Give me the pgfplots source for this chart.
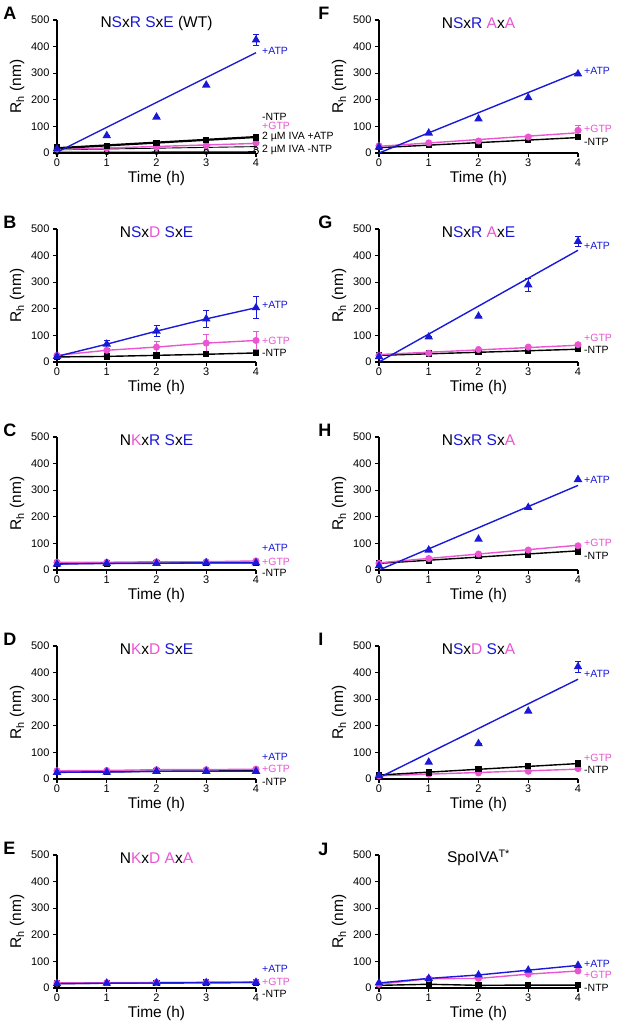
\documentclass[border=0pt]{standalone}
\usepackage{pgfplots}
\pgfplotsset{compat=1.18}
\usepackage{fontspec}
\setmainfont{Liberation Sans}
\definecolor{myblue}{RGB}{25,25,215}
\definecolor{mypink}{RGB}{235,85,210}
\newcommand{\cb}[1]{\textcolor{myblue}{#1}}
\newcommand{\cp}[1]{\textcolor{mypink}{#1}}
\pgfplotsset{
  panel/.style={
    width=199pt, height=133pt, scale only axis, anchor=south west,
    xmin=0, xmax=4, ymin=0, ymax=500,
    xtick={0,1,2,3,4}, ytick={0,100,200,300,400,500},
    axis x line*=bottom, axis y line*=left,
    axis line style={line width=1.5pt},
    tick align=outside, major tick length=4pt,
    tick style={black, line width=1.2pt},
    tick label style={font=\fontsize{11}{13}\selectfont},
    xticklabel style={inner sep=1.5pt},
    /pgf/number format/assume math mode=true,
    xlabel={Time (h)}, ylabel={R\textsubscript{h} (nm)},
    label style={font=\fontsize{15.5}{18}\selectfont},
    xlabel style={at={(axis description cs:0.5,-0.19)}, anchor=center},
    ylabel style={at={(axis description cs:-0.2,0.5)}, anchor=center},
    clip=false,
    error bars/error bar style={line width=1pt},
    error bars/error mark options={rotate=90, mark size=3pt, line width=1pt},
  },
  atp/.style={myblue, line width=1.4pt, mark=triangle*, mark size=3.6pt, mark options={solid}},
  gtp/.style={mypink, line width=1.4pt, mark=*, mark size=2.8pt},
  ntp/.style={black, line width=1.4pt, mark=square*, mark size=2.5pt},
}
\tikzset{
  lab/.style={anchor=west, inner sep=0pt, xshift=6pt, font=\fontsize{10.5}{12}\selectfont},
  ttl/.style={anchor=center, font=\fontsize{15.5}{18}\selectfont},
  plet/.style={anchor=west, inner sep=0pt, font=\fontsize{18}{20}\selectfont\bfseries},
  fit/.style={line width=1.4pt},
}
\begin{document}
\begin{tikzpicture}
\useasboundingbox (0,0) rectangle (617pt,1025pt);

% ---------- A ----------
\begin{axis}[panel, at={(57pt,872pt)}]
\addplot[black, line width=0.9pt, mark=o, mark size=2.4pt, mark options={fill=white}] coordinates {(0,3)(1,3)(2,4)(3,4)(4,5)};
\addplot[black, line width=0.9pt, mark=x, mark size=3pt] coordinates {(0,12)(1,15)(2,18)(3,21)(4,24)};
\addplot[gtp, only marks] coordinates {(0,15)(1,18)(2,22)(3,28)(4,38)};
\addplot[mypink, fit] coordinates {(0,13)(4,36)};
\addplot[ntp, only marks] coordinates {(0,20)(1,27)(2,38)(3,48)(4,58)};
\addplot[black, line width=2.2pt] coordinates {(0,18)(4,60)};
\addplot[atp, only marks, error bars/.cd, y dir=both, y explicit] coordinates {(0,15)+-(0,0) (1,65)+-(0,0) (2,135)+-(0,0) (3,255)+-(0,0) (4,425)+-(0,20)};
\addplot[myblue, fit] coordinates {(0,3)(4,377)};
\node[ttl] at (axis cs:2,488) {N\cb{S}x\cb{R} \cb{S}x\cb{E} (WT)};
\node[lab, myblue] at (axis cs:4,383) {+ATP};
\node[lab] at (axis cs:4,135) {-NTP};
\node[lab, mypink] at (axis cs:4,101) {+GTP};
\node[lab] at (axis cs:4,60) {2 µM IVA +ATP};
\node[lab] at (axis cs:4,11) {2 µM IVA -NTP};
\node[plet] at (axis description cs:-0.271,1.053) {A};
\end{axis}

% ---------- B ----------
\begin{axis}[panel, at={(57pt,663pt)}]
\addplot[ntp] coordinates {(0,19)(1,21)(2,25)(3,29)(4,34)};
\addplot[gtp, error bars/.cd, y dir=both, y explicit] coordinates {(0,25)+-(0,0) (1,44)+-(0,0) (2,56)+-(0,22) (3,71)+-(0,32) (4,81)+-(0,33)};
\addplot[atp, error bars/.cd, y dir=both, y explicit] coordinates {(0,21)+-(0,0) (1,67)+-(0,15) (2,116)+-(0,22) (3,162)+-(0,31) (4,204)+-(0,42)};
\node[ttl] at (axis cs:2,488) {N\cb{S}x\cp{D} \cb{S}x\cb{E}};
\node[lab, myblue] at (axis cs:4,216) {+ATP};
\node[lab, mypink] at (axis cs:4,78) {+GTP};
\node[lab] at (axis cs:4,33) {-NTP};
\node[plet] at (axis description cs:-0.271,1.047) {B};
\end{axis}

% ---------- C ----------
\begin{axis}[panel, at={(57pt,455pt)}]
\addplot[ntp] coordinates {(0,24)(1,25)(2,26)(3,27)(4,28)};
\addplot[gtp] coordinates {(0,29)(1,29)(2,31)(3,31)(4,34)};
\addplot[atp] coordinates {(0,22)(1,25)(2,25)(3,27)(4,27)};
\node[ttl] at (axis cs:2,488) {N\cp{K}x\cb{R} \cb{S}x\cb{E}};
\node[lab, myblue] at (axis cs:4,83) {+ATP};
\node[lab, mypink] at (axis cs:4,30) {+GTP};
\node[lab] at (axis cs:4,-12) {-NTP};
\node[plet] at (axis description cs:-0.271,1.047) {C};
\end{axis}

% ---------- D ----------
\begin{axis}[panel, at={(57pt,246pt)}]
\addplot[ntp] coordinates {(0,26)(1,27)(2,29)(3,30)(4,31)};
\addplot[gtp] coordinates {(0,31)(1,32)(2,35)(3,35)(4,37)};
\addplot[atp] coordinates {(0,25)(1,26)(2,29)(3,29)(4,29)};
\node[ttl] at (axis cs:2,488) {N\cp{K}x\cp{D} \cb{S}x\cb{E}};
\node[lab, myblue] at (axis cs:4,83) {+ATP};
\node[lab, mypink] at (axis cs:4,38) {+GTP};
\node[lab] at (axis cs:4,-11) {-NTP};
\node[plet] at (axis description cs:-0.271,1.047) {D};
\end{axis}

% ---------- E ----------
\begin{axis}[panel, at={(57pt,37pt)}]
\addplot[ntp] coordinates {(0,17)(1,18)(2,19)(3,20)(4,21)};
\addplot[gtp] coordinates {(0,19)(1,20)(2,21)(3,22)(4,23)};
\addplot[atp] coordinates {(0,16)(1,18)(2,19)(3,20)(4,21)};
\node[ttl] at (axis cs:2,488) {N\cp{K}x\cp{D} \cp{A}x\cp{A}};
\node[lab, myblue] at (axis cs:4,70) {+ATP};
\node[lab, mypink] at (axis cs:4,24) {+GTP};
\node[lab] at (axis cs:4,-21) {-NTP};
\node[plet] at (axis description cs:-0.271,1.047) {E};
\end{axis}

% ---------- F ----------
\begin{axis}[panel, at={(379pt,872pt)}]
\addplot[ntp, only marks] coordinates {(0,22)(1,30)(2,30)(3,51)(4,60)};
\addplot[black, fit] coordinates {(0,20)(4,58)};
\addplot[gtp, only marks, error bars/.cd, y dir=both, y explicit] coordinates {(0,27)+-(0,0) (1,38)+-(0,0) (2,45)+-(0,0) (3,60)+-(0,0) (4,85)+-(0,18)};
\addplot[mypink, fit] coordinates {(0,25)(4,76)};
\addplot[atp, only marks] coordinates {(0,22)(1,75)(2,128)(3,208)(4,297)};
\addplot[myblue, fit] coordinates {(0,0)(4,303)};
\node[ttl] at (axis cs:2,488) {N\cb{S}x\cb{R} \cp{A}x\cp{A}};
\node[lab, myblue] at (axis cs:4,308) {+ATP};
\node[lab, mypink] at (axis cs:4,90) {+GTP};
\node[lab] at (axis cs:4,42) {-NTP};
\node[plet] at (axis description cs:-0.306,1.053) {F};
\end{axis}

% ---------- G ----------
\begin{axis}[panel, at={(379pt,663pt)}]
\addplot[ntp, only marks] coordinates {(0,25)(1,32)(2,38)(3,43)(4,48)};
\addplot[black, fit] coordinates {(0,25)(4,48)};
\addplot[gtp, only marks] coordinates {(0,25)(1,33)(2,47)(3,56)(4,65)};
\addplot[mypink, fit] coordinates {(0,28)(4,63)};
\addplot[atp, only marks, error bars/.cd, y dir=both, y explicit] coordinates {(0,20)+-(0,0) (1,94)+-(0,0) (2,172)+-(0,0) (3,290)+-(0,25) (4,453)+-(0,17)};
\addplot[myblue, fit] coordinates {(0,0)(4,420)};
\node[ttl] at (axis cs:2,488) {N\cb{S}x\cb{R} \cp{A}x\cb{E}};
\node[lab, myblue] at (axis cs:4,437) {+ATP};
\node[lab, mypink] at (axis cs:4,91) {+GTP};
\node[lab] at (axis cs:4,45) {-NTP};
\node[plet] at (axis description cs:-0.306,1.047) {G};
\end{axis}

% ---------- H ----------
\begin{axis}[panel, at={(379pt,455pt)}]
\addplot[ntp, only marks] coordinates {(0,25)(1,34)(2,52)(3,58)(4,69)};
\addplot[black, fit] coordinates {(0,25)(4,72)};
\addplot[gtp, only marks] coordinates {(0,25)(1,43)(2,60)(3,75)(4,91)};
\addplot[mypink, fit] coordinates {(0,27)(4,93)};
\addplot[atp, only marks] coordinates {(0,16)(1,75)(2,116)(3,235)(4,340)};
\addplot[myblue, fit] coordinates {(0,0)(4,318)};
\node[ttl] at (axis cs:2,488) {N\cb{S}x\cb{R} \cb{S}x\cp{A}};
\node[lab, myblue] at (axis cs:4,338) {+ATP};
\node[lab, mypink] at (axis cs:4,102) {+GTP};
\node[lab] at (axis cs:4,54) {-NTP};
\node[plet] at (axis description cs:-0.306,1.047) {H};
\end{axis}

% ---------- I ----------
\begin{axis}[panel, at={(379pt,246pt)}]
\addplot[gtp, only marks] coordinates {(0,12)(1,18)(2,23)(3,29)(4,39)};
\addplot[mypink, fit] coordinates {(0,12)(4,37)};
\addplot[ntp, only marks] coordinates {(0,16)(1,25)(2,38)(3,48)(4,58)};
\addplot[black, fit] coordinates {(0,15)(4,58)};
\addplot[atp, only marks, error bars/.cd, y dir=both, y explicit] coordinates {(0,13)+-(0,0) (1,63)+-(0,0) (2,133)+-(0,0) (3,255)+-(0,0) (4,422)+-(0,20)};
\addplot[myblue, fit] coordinates {(0,5)(4,375)};
\node[ttl] at (axis cs:2,488) {N\cb{S}x\cp{D} \cb{S}x\cp{A}};
\node[lab, myblue] at (axis cs:4,397) {+ATP};
\node[lab, mypink] at (axis cs:4,80) {+GTP};
\node[lab] at (axis cs:4,35) {-NTP};
\node[plet] at (axis description cs:-0.306,1.047) {I};
\end{axis}

% ---------- J ----------
\begin{axis}[panel, at={(379pt,37pt)}]
\addplot[ntp] coordinates {(0,10)(1,14)(2,10)(3,11)(4,11)};
\addplot[gtp] coordinates {(0,14)(1,35)(2,36)(3,52)(4,64)};
\addplot[atp] coordinates {(0,19)(1,36)(2,49)(3,67)(4,85)};
\node[ttl] at (axis cs:2,488) {SpoIVA\textsuperscript{T*}};
\node[lab, myblue] at (axis cs:4,92) {+ATP};
\node[lab, mypink] at (axis cs:4,48) {+GTP};
\node[lab] at (axis cs:4,0) {-NTP};
\node[plet] at (axis description cs:-0.306,1.04) {J};
\end{axis}
\end{tikzpicture}
\end{document}
